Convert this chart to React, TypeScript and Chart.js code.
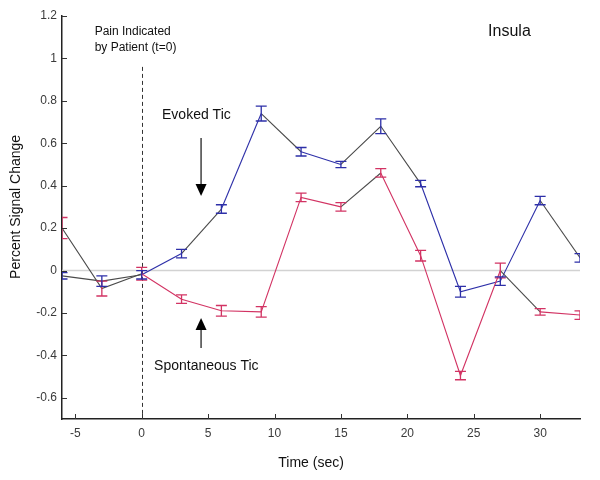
import React, { useEffect, useRef } from "react";
import { Chart, registerables } from "chart.js";

Chart.register(...registerables);

// ---- data ----
const times = [-6, -3, 0, 3, 6, 9, 12, 15, 18, 21, 24, 27, 30, 33];
const evoked = [-0.025, -0.05, -0.02, 0.08, 0.29, 0.74, 0.56, 0.5, 0.68, 0.41, -0.1, -0.05, 0.33, 0.06];
const evokedErr = [0.015, 0.025, 0.02, 0.02, 0.02, 0.035, 0.02, 0.015, 0.035, 0.015, 0.025, 0.02, 0.02, 0.02];
const spontaneous = [0.2, -0.085, -0.015, -0.135, -0.19, -0.195, 0.345, 0.3, 0.46, 0.07, -0.495, 0.0, -0.195, -0.21];
const spontaneousErr = [0.05, 0.035, 0.03, 0.02, 0.025, 0.025, 0.02, 0.02, 0.02, 0.025, 0.02, 0.035, 0.015, 0.02];
const xTicks = [-5, 0, 5, 10, 15, 20, 25, 30];
const yTicks = [-0.6, -0.4, -0.2, 0, 0.2, 0.4, 0.6, 0.8, 1, 1.2];
const painTime = 0;

// ---- styles ----
const BLUE = "#2d2fa8";
const RED = "#d23363";
const DARK = "#4a4a4a";
const evokedSegColors = [DARK, DARK, BLUE, DARK, BLUE, DARK, BLUE, DARK, DARK, BLUE, BLUE, BLUE, DARK];
const spontSegColors = [DARK, DARK, RED, RED, RED, RED, RED, DARK, RED, RED, RED, DARK, RED];
const FONT = "'Liberation Sans', Arial, Helvetica, sans-serif";

const overlay = {
  id: "overlay",
  beforeDatasetsDraw(chart: any) {
    const { ctx, chartArea: a, scales } = chart;
    const x = scales.x;
    const y = scales.y;
    ctx.save();
    const y0 = y.getPixelForValue(0);
    ctx.strokeStyle = "#d2d2d2";
    ctx.lineWidth = 1.5;
    ctx.beginPath();
    ctx.moveTo(a.left, y0);
    ctx.lineTo(a.right, y0);
    ctx.stroke();

    const xp = Math.round(x.getPixelForValue(painTime)) + 0.5;
    ctx.setLineDash([4, 3]);
    ctx.strokeStyle = "#333";
    ctx.lineWidth = 1;
    ctx.beginPath();
    ctx.moveTo(xp, y.getPixelForValue(0.96));
    ctx.lineTo(xp, a.bottom);
    ctx.stroke();
    ctx.restore();
  },
  afterDatasetsDraw(chart: any) {
    const { ctx, chartArea: a, scales } = chart;
    const x = scales.x;
    const y = scales.y;
    ctx.save();
    ctx.beginPath();
    ctx.rect(a.left, a.top, a.right - a.left, a.bottom - a.top);
    ctx.clip();
    const series = [
      { vals: spontaneous, err: spontaneousErr, color: RED },
      { vals: evoked, err: evokedErr, color: BLUE },
    ];
    const hw = 5.5;
    series.forEach((s) => {
      ctx.strokeStyle = s.color;
      ctx.lineWidth = 1.3;
      times.forEach((t, i) => {
        const px = x.getPixelForValue(t);
        const hi = y.getPixelForValue(s.vals[i] + s.err[i]);
        const lo = y.getPixelForValue(s.vals[i] - s.err[i]);
        ctx.beginPath();
        ctx.moveTo(px, hi);
        ctx.lineTo(px, lo);
        ctx.moveTo(px - hw, hi);
        ctx.lineTo(px + hw, hi);
        ctx.moveTo(px - hw, lo);
        ctx.lineTo(px + hw, lo);
        ctx.stroke();
      });
    });
    ctx.restore();
  },
  afterDraw(chart: any) {
    const { ctx, chartArea: a, scales } = chart;
    const x = scales.x;
    const y = scales.y;
    ctx.save();
    // inward ticks
    ctx.strokeStyle = "#333";
    ctx.lineWidth = 1;
    yTicks.forEach((v) => {
      const py = Math.round(y.getPixelForValue(v)) + 0.5;
      ctx.beginPath();
      ctx.moveTo(a.left, py);
      ctx.lineTo(a.left + 5, py);
      ctx.stroke();
    });
    xTicks.forEach((v) => {
      const px = Math.round(x.getPixelForValue(v)) + 0.5;
      ctx.beginPath();
      ctx.moveTo(px, a.bottom);
      ctx.lineTo(px, a.bottom - 5);
      ctx.stroke();
    });

    // texts
    ctx.fillStyle = "#111";
    ctx.textBaseline = "middle";
    ctx.textAlign = "left";
    ctx.font = `12px ${FONT}`;
    ctx.fillText("Pain Indicated", x.getPixelForValue(-3.54), y.getPixelForValue(1.125));
    ctx.fillText("by Patient (t=0)", x.getPixelForValue(-3.54), y.getPixelForValue(1.049));
    ctx.font = `14px ${FONT}`;
    ctx.fillText("Evoked Tic", x.getPixelForValue(1.53), y.getPixelForValue(0.733));
    ctx.fillText("Spontaneous Tic", x.getPixelForValue(0.93), y.getPixelForValue(-0.45));
    ctx.font = `16px ${FONT}`;
    ctx.fillText("Insula", x.getPixelForValue(26.08), y.getPixelForValue(1.125));

    // arrows
    const ax = x.getPixelForValue(4.47);
    const drawArrow = (fromV: number, tipV: number) => {
      const yf = y.getPixelForValue(fromV);
      const yt = y.getPixelForValue(tipV);
      const dir = yt > yf ? 1 : -1;
      const head = 12;
      ctx.strokeStyle = "#111";
      ctx.lineWidth = 1.2;
      ctx.beginPath();
      ctx.moveTo(ax, yf);
      ctx.lineTo(ax, yt - dir * head);
      ctx.stroke();
      ctx.fillStyle = "#000";
      ctx.beginPath();
      ctx.moveTo(ax, yt);
      ctx.lineTo(ax - 5.5, yt - dir * head);
      ctx.lineTo(ax + 5.5, yt - dir * head);
      ctx.closePath();
      ctx.fill();
    };
    drawArrow(0.625, 0.351);
    drawArrow(-0.365, -0.224);

    // axis titles
    ctx.fillStyle = "#111";
    ctx.font = `14px ${FONT}`;
    ctx.textAlign = "center";
    ctx.fillText("Time (sec)", x.getPixelForValue(12.75), a.bottom + 44);
    ctx.translate(a.left - 46, y.getPixelForValue(0.3));
    ctx.rotate(-Math.PI / 2);
    ctx.fillText("Percent Signal Change", 0, 0);
    ctx.restore();
  },
};

export default function App() {
  const ref = useRef<HTMLCanvasElement>(null);
  useEffect(() => {
    if (!ref.current) return;
    const chart = new Chart(ref.current, {
      type: "line",
      data: {
        labels: times,
        datasets: [
          {
            label: "Spontaneous Tic",
            data: times.map((t, i) => ({ x: t, y: spontaneous[i] })),
            borderColor: RED,
            borderWidth: 1.1,
            pointRadius: 0,
            segment: { borderColor: (c: any) => spontSegColors[c.p0DataIndex] },
          },
          {
            label: "Evoked Tic",
            data: times.map((t, i) => ({ x: t, y: evoked[i] })),
            borderColor: BLUE,
            borderWidth: 1.1,
            pointRadius: 0,
            segment: { borderColor: (c: any) => evokedSegColors[c.p0DataIndex] },
          },
        ],
      },
      options: {
        responsive: false,
        animation: false,
        devicePixelRatio: 1,
        layout: { padding: { left: 0, top: 16, right: 20, bottom: 0 } },
        plugins: { legend: { display: false }, tooltip: { enabled: false } },
        scales: {
          x: {
            type: "linear",
            min: -6,
            max: 33,
            afterBuildTicks: (s: any) => {
              s.ticks = xTicks.map((v) => ({ value: v }));
            },
            afterFit: (s: any) => {
              s.height = 61;
            },
            grid: { display: false, drawTicks: false },
            border: { display: true, color: "#222", width: 1.5 },
            ticks: {
              padding: 7,
              color: "#3a3a3a",
              font: { family: FONT, size: 12 },
              maxRotation: 0,
              callback: (v: any) => String(v),
            },
          },
          y: {
            type: "linear",
            min: -0.7,
            max: 1.2,
            afterBuildTicks: (s: any) => {
              s.ticks = yTicks.map((v) => ({ value: v }));
            },
            afterFit: (s: any) => {
              s.width = 62;
            },
            grid: { display: false, drawTicks: false },
            border: { display: true, color: "#222", width: 1.5 },
            ticks: {
              padding: 5,
              color: "#3a3a3a",
              font: { family: FONT, size: 12 },
              callback: (v: any) => String(Math.round(Number(v) * 10) / 10),
            },
          },
        },
      },
      plugins: [overlay],
    });
    return () => chart.destroy();
  }, []);
  return (
    <div style={{ position: "absolute", left: 0, top: 0, width: 600, height: 480, background: "#fff" }}>
      <canvas ref={ref} width={600} height={480} />
    </div>
  );
}
